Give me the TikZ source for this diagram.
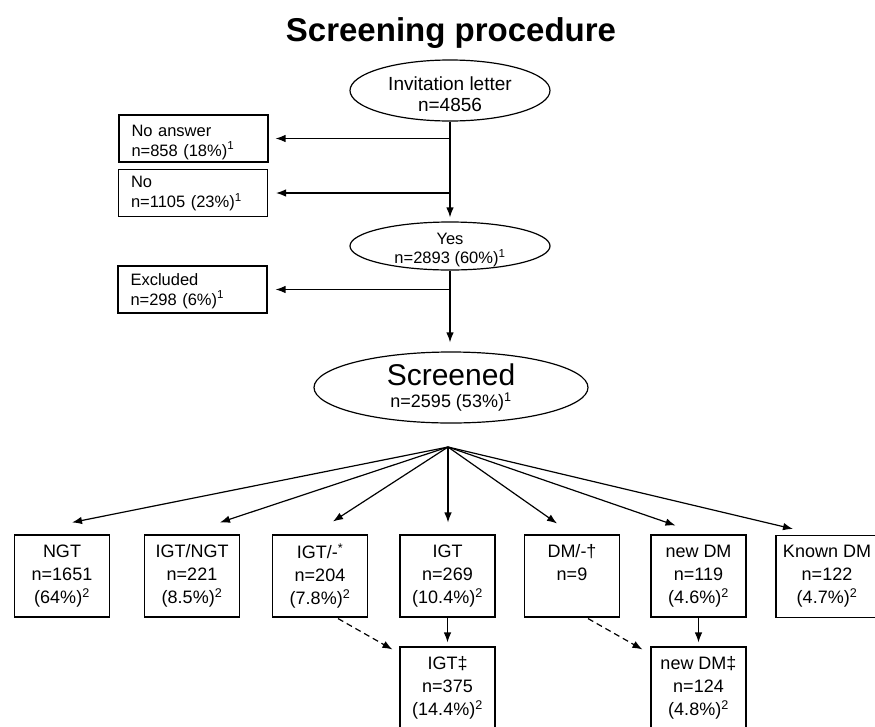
\documentclass[tikz,border=0pt]{standalone}
\usepackage{fontspec}
\setmainfont{Liberation Sans}
\usetikzlibrary{shapes.geometric,arrows.meta,calc}
\newcommand\shiftedtext[3]{\raisebox{#1}[\height][\depth]{\begin{tabular}{@{}#2@{}}#3\end{tabular}}}
\begin{document}
\begin{tikzpicture}[x=1pt,y=-1pt,
  ell/.style={draw,ellipse,line width=1.2pt,inner xsep=0pt,inner ysep=-3pt},
  side/.style={draw,line width=1.1pt,minimum width=149pt,minimum height=47pt,text width=124pt,align=left,inner sep=0pt,font=\fontsize{16.5}{19}\selectfont},
  cat/.style={draw,line width=1.1pt,minimum width=95pt,minimum height=82pt,align=center,inner sep=0pt,font=\fontsize{18}{23}\selectfont},
  arr/.style={line width=1.2pt,-{Latex[length=10pt,width=7.5pt]}},
  darr/.style={arr,dash pattern=on 6pt off 4pt},
]
\clip (0,0) rectangle (875,726);
\fill[white] (0,0) rectangle (875,726);
% title
\node[anchor=base,font=\fontsize{33}{36}\selectfont\bfseries] (title) at (451,41) {Screening procedure};
% upper flow
\node[ell,minimum width=200pt,minimum height=61pt,font=\fontsize{19}{21}\selectfont] (inv) at (450,90.5) {\shiftedtext{-6.5pt}{c}{Invitation letter\\n=4856}};
\node[side] (noans) at (193.5,138.5) {\shiftedtext{-4pt}{l}{No answer\\n=858 (18\%)\textsuperscript{1}}};
\node[side] (no) at (193,193) {\shiftedtext{-1pt}{l}{No\\n=1105 (23\%)\textsuperscript{1}}};
\node[ell,minimum width=200pt,minimum height=48pt,font=\fontsize{16.5}{18}\selectfont] (yes) at (450,246) {\shiftedtext{-4.5pt}{c}{Yes\\n=2893 (60\%)\textsuperscript{1}}};
\node[side] (excl) at (192.5,289.5) {\shiftedtext{-2pt}{l}{Excluded\\n=298 (6\%)\textsuperscript{1}}};
\node[ell,minimum width=274pt,minimum height=71pt,font=\fontsize{18}{20}\selectfont] (scr) at (451,387.5) {\shiftedtext{-1.5pt}{c}{{\fontsize{30}{30}\selectfont Screened}\\[1pt]n=2595 (53\%)\textsuperscript{1}}};
\coordinate (fan) at (448,447);
% categories
\node[cat] (ngt) at (62,576) {NGT\\n=1651\\(64\%)\textsuperscript{2}};
\node[cat] (ign) at (192,576) {IGT/NGT\\n=221\\(8.5\%)\textsuperscript{2}};
\node[cat] (igm) at (320,576) {IGT/-\textsuperscript{*}\\n=204\\(7.8\%)\textsuperscript{2}};
\node[cat] (igt) at (447.5,576) {IGT\\n=269\\(10.4\%)\textsuperscript{2}};
\node[cat] (dmm) at (572,576) {DM/-†\\n=9\\\phantom{(0\%)}};
\node[cat] (ndm) at (698.5,576) {new DM\\n=119\\(4.6\%)\textsuperscript{2}};
\node[cat,minimum width=102pt] (kdm) at (827,576.5) {Known DM\\n=122\\(4.7\%)\textsuperscript{2}};
\node[cat] (igtb) at (447.5,688) {IGT‡\\n=375\\(14.4\%)\textsuperscript{2}};
\node[cat] (ndmb) at (698.5,688) {new DM‡\\n=124\\(4.8\%)\textsuperscript{2}};
% connectors upper
\draw[arr,shorten >=4pt] (inv.south) -- (yes.north);
\draw[arr,shorten >=7pt] (inv.south |- noans.east) -- (noans.east);
\draw[arr,shorten >=8pt] (inv.south |- no.east) -- (no.east);
\draw[arr,shorten >=8pt] (yes.south |- excl.east) -- (excl.east);
\draw[arr,shorten >=9pt] (yes.south) -- (yes.south |- scr.north);
% fan
\draw[arr] (fan) -- ([xshift=10pt,yshift=12pt]ngt.north);
\draw[arr] (fan) -- ([xshift=28pt,yshift=12pt]ign.north);
\draw[arr] (fan) -- ([xshift=13pt,yshift=13pt]igm.north);
\draw[arr] (fan) -- ([xshift=0.5pt,yshift=12pt]igt.north);
\draw[arr] (fan) -- ([xshift=-15pt,yshift=11pt]dmm.north);
\draw[arr] (fan) -- ([xshift=-23pt,yshift=9pt]ndm.north);
\draw[arr] (fan) -- ([xshift=-34pt,yshift=6pt]kdm.north);
% lower
\draw[arr,shorten >=4pt] (igt.south) -- (igtb.north);
\draw[arr,shorten >=4pt] (ndm.south) -- (ndmb.north);
\draw[darr] ([xshift=18pt,yshift=-1pt]igm.south) -- ([xshift=-7pt,yshift=-3pt]igtb.north west);
\draw[darr] ([xshift=16pt,yshift=-1pt]dmm.south) -- ([xshift=-8pt,yshift=-3pt]ndmb.north west);
\end{tikzpicture}
\end{document}
